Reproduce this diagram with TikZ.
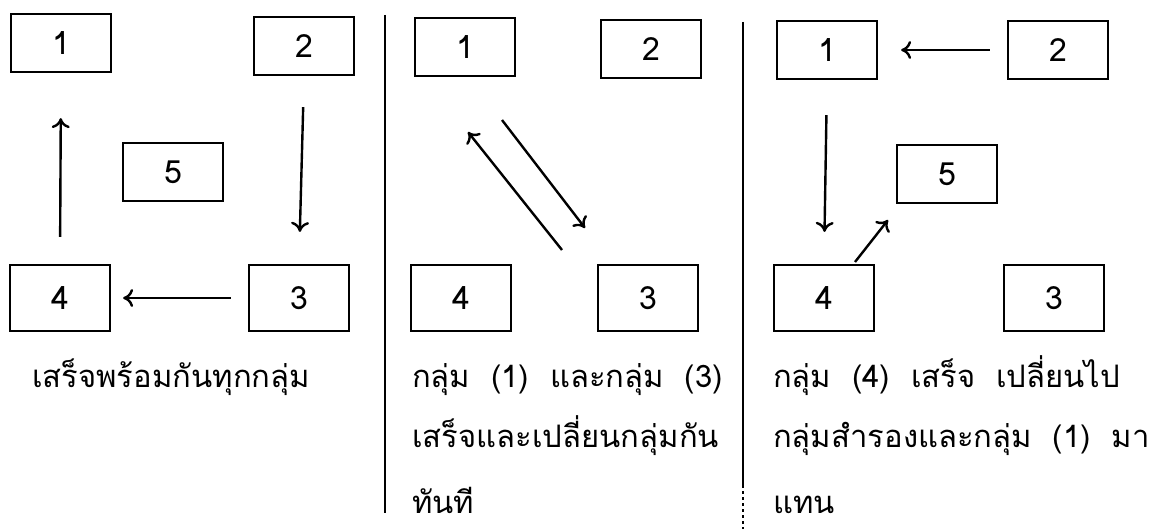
\documentclass[tikz,border=0pt]{standalone}
\usepackage{fontspec}
\newfontfamily\thaifont[Script=Thai]{Loma}
\usetikzlibrary{calc}
\usetikzlibrary{arrows.meta}

\tikzset{
  grp/.style={draw, line width=2.2pt, minimum width=100pt, minimum height=58pt,
    font=\thaifont\fontsize{32}{36}\selectfont},
  low/.style={grp, minimum height=66pt},
  flow/.style={line width=2.4pt, -{To[length=10pt,width=18pt]}},
  rule/.style={line width=2.6pt},
  note/.style={anchor=base west, inner sep=0pt, font=\thaifont\fontsize{31}{36}\selectfont}
}

\begin{document}
\begin{tikzpicture}[x=1pt,y=-1pt]
    \useasboundingbox (0,0) rectangle (1161,529);

    % everybody finishes together
    \node[grp] (a1) at (61,43) {1};
    \node[grp] (a2) at (304,46) {2};
    \node[grp] (a5) at (173,172) {5};
    \node[low] (a4) at (60,298) {4};
    \node[low] (a3) at (299,298) {3};
    \draw[flow, shorten <=27pt, shorten >=45pt] (a4.north) -- (a1.south);
    \draw[flow, shorten <=31pt, shorten >=32pt] (a2.south) -- (a3.north);
    \draw[flow, shorten <=17pt, shorten >=12pt] (a3.west) -- (a4.east);
    \node[note] (t1) at (32,387) {เสร็จพร้อมกันทุกกลุ่ม};

    \draw[rule] (385,15) -- (385,513);

    % two groups swap
    \node[grp] (b1) at (465,47) {1};
    \node[grp] (b2) at (651,49) {2};
    \node[low] (b4) at (461,298) {4};
    \node[low] (b3) at (648,298) {3};
    \coordinate (b31) at (562,250);
    \coordinate (b13) at (502,120);
    \draw[flow] (b31) -- (468,132);
    \draw[flow] (b13) -- (585,228);
    \node[note] (t2a) at (412,387) {กลุ่ม~ (1)~ และกลุ่ม~ (3)};
    \node[note] (t2b) at (412,447) {เสร็จและเปลี่ยนกลุ่มกัน};
    \node[note] (t2c) at (412,513) {ทันที};

    \draw[rule] (743,22) -- (743,485);
    \draw[rule, dashed] (743,485) -- (743,529);

    % spare group
    \node[grp] (c1) at (827,50) {1};
    \node[grp] (c2) at (1058,50) {2};
    \node[grp] (c5) at (947,174) {5};
    \node[low] (c4) at (824,298) {4};
    \node[low] (c3) at (1054,298) {3};
    \draw[flow, shorten <=17pt, shorten >=23pt] (c2.west) -- (c1.east);
    \draw[flow, shorten <=35pt, shorten >=32pt] (c1.south) -- (c4.north);
    \coordinate (c45) at (855,262);
    \draw[flow] (c45) -- (888,220);
    \node[note] (t3a) at (773,387) {กลุ่ม~ (4)~ เสร็จ~ เปลี่ยนไป};
    \node[note] (t3b) at (773,447) {กลุ่มสำรองและกลุ่ม~ (1)~ มา};
    \node[note] (t3c) at (773,513) {แทน};
\end{tikzpicture}
\end{document}
